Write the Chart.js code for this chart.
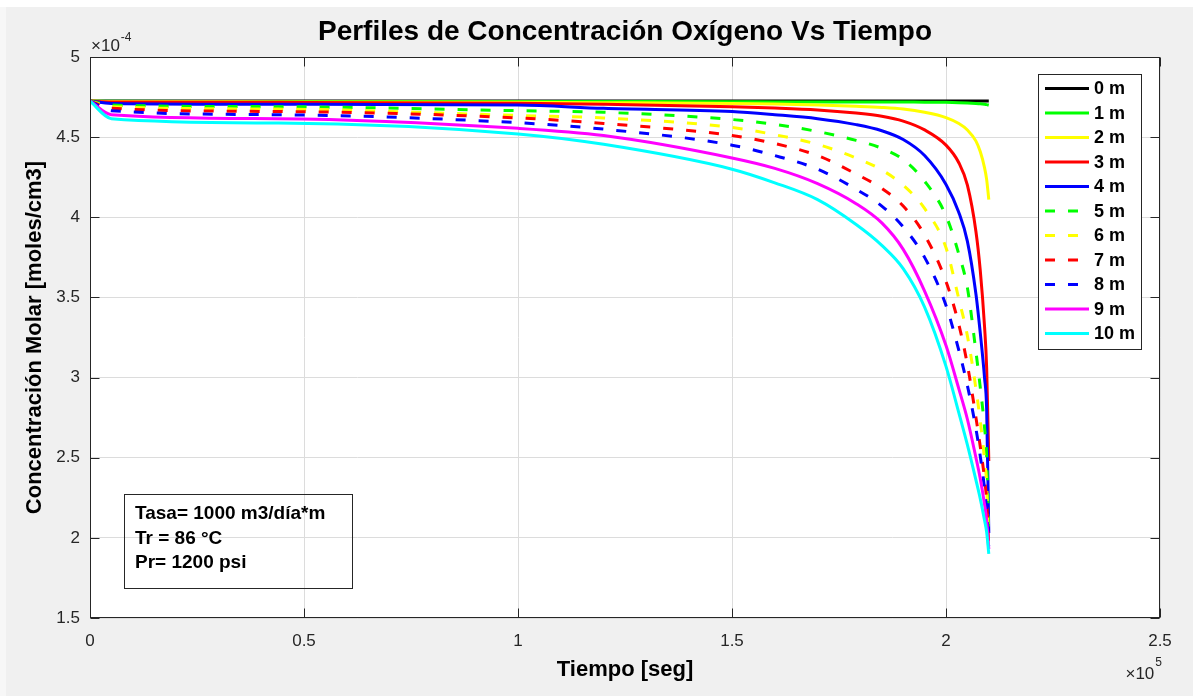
<!DOCTYPE html>
<html>
<head>
<meta charset="utf-8">
<script src="https://cdn.jsdelivr.net/npm/chart.js@4.4.1/dist/chart.umd.min.js"></script>
<style>
html,body{margin:0;padding:0;background:#f0f0f0;}
#wrap{width:1193px;height:696px;position:relative;}
canvas{display:block;}
</style>
</head>
<body>
<div id="wrap"><canvas id="c" width="1193" height="696"></canvas></div>
<script>
// Time (units of 10^5 s)
const timeE5 = [0, 0.05, 0.44, 1.0, 1.2, 1.5, 1.6, 1.7, 1.79, 1.85, 1.9, 1.95, 2.0, 2.03, 2.05, 2.07, 2.08, 2.09, 2.095, 2.1];
// Concentration (units of 10^-4 moles/cm3) per depth
const c0m  = [4.725, 4.725, 4.725, 4.725, 4.725, 4.725, 4.725, 4.725, 4.725, 4.725, 4.725, 4.725, 4.725, 4.725, 4.725, 4.725, 4.725, 4.725, 4.725, 4.725];
const c1m  = [4.725, 4.724, 4.723, 4.722, 4.722, 4.721, 4.72, 4.72, 4.72, 4.72, 4.719, 4.718, 4.717, 4.715, 4.713, 4.71, 4.708, 4.705, 4.703, 4.70];
const c2m  = [4.725, 4.722, 4.72, 4.717, 4.715, 4.71, 4.706, 4.70, 4.692, 4.685, 4.675, 4.655, 4.622, 4.585, 4.545, 4.475, 4.41, 4.31, 4.235, 4.11];
const c3m  = [4.725, 4.72, 4.717, 4.712, 4.705, 4.69, 4.682, 4.67, 4.65, 4.63, 4.60, 4.545, 4.45, 4.34, 4.20, 3.91, 3.67, 3.32, 3.06, 2.48];
const c4m  = [4.725, 4.71, 4.705, 4.70, 4.68, 4.66, 4.64, 4.615, 4.578, 4.54, 4.485, 4.385, 4.205, 4.03, 3.85, 3.52, 3.28, 3.00, 2.80, 2.03];
const c5m  = [4.725, 4.70, 4.69, 4.665, 4.655, 4.61, 4.58, 4.535, 4.48, 4.43, 4.36, 4.225, 4.01, 3.77, 3.56, 3.16, 2.94, 2.69, 2.51, 2.00];
const c6m  = [4.725, 4.69, 4.675, 4.635, 4.62, 4.56, 4.515, 4.455, 4.37, 4.295, 4.20, 4.055, 3.81, 3.49, 3.26, 2.93, 2.73, 2.49, 2.33, 1.88];
const c7m  = [4.725, 4.68, 4.66, 4.62, 4.585, 4.51, 4.46, 4.385, 4.27, 4.18, 4.07, 3.89, 3.60, 3.33, 3.08, 2.75, 2.57, 2.37, 2.23, 1.95];
const c8m  = [4.725, 4.665, 4.64, 4.59, 4.55, 4.45, 4.385, 4.30, 4.175, 4.07, 3.94, 3.75, 3.45, 3.17, 2.95, 2.68, 2.51, 2.31, 2.17, 1.95];
const c9m  = [4.725, 4.64, 4.615, 4.555, 4.51, 4.37, 4.305, 4.21, 4.085, 3.965, 3.80, 3.54, 3.20, 2.93, 2.74, 2.50, 2.37, 2.21, 2.11, 1.93];
const c10m = [4.725, 4.615, 4.588, 4.52, 4.455, 4.30, 4.215, 4.11, 3.955, 3.825, 3.68, 3.44, 3.07, 2.78, 2.58, 2.36, 2.245, 2.11, 2.035, 1.90];

const seriesLabels = ['0 m', '1 m', '2 m', '3 m', '4 m', '5 m', '6 m', '7 m', '8 m', '9 m', '10 m'];
const seriesValues = [c0m, c1m, c2m, c3m, c4m, c5m, c6m, c7m, c8m, c9m, c10m];
const seriesColors = ['#000000', '#00ff00', '#ffff00', '#ff0000', '#0000ff', '#00ff00', '#ffff00', '#ff0000', '#0000ff', '#ff00ff', '#00ffff'];
const seriesDashed = [false, false, false, false, false, true, true, true, true, false, false];

const xTickValues = [0, 0.5, 1, 1.5, 2, 2.5];
const xTickLabels = ['0', '0.5', '1', '1.5', '2', '2.5'];
const yTickValues = [1.5, 2, 2.5, 3, 3.5, 4, 4.5, 5];
const yTickLabels = ['1.5', '2', '2.5', '3', '3.5', '4', '4.5', '5'];

const titleText = 'Perfiles de Concentración Oxígeno Vs Tiempo';
const xTitle = 'Tiempo [seg]';
const yTitle = 'Concentración Molar [moles/cm3]';
const noteLines = ['Tasa= 1000 m3/día*m', 'Tr = 86 °C', 'Pr= 1200 psi'];

const FONT = '"Liberation Sans", Arial, Helvetica, sans-serif';
const DASH = [10, 13];

const datasets = seriesLabels.map((lab, i) => ({
  label: lab,
  data: timeE5.map((t, k) => ({x: t, y: seriesValues[i][k]})),
  borderColor: seriesColors[i],
  backgroundColor: seriesColors[i],
  borderWidth: 3,
  borderDash: seriesDashed[i] ? DASH : [],
  pointRadius: 0,
  fill: false,
  cubicInterpolationMode: 'monotone',
  order: seriesLabels.length - 1 - i
}));

function labelFor(values, labels, v) {
  for (let i = 0; i < values.length; i++) if (Math.abs(values[i] - v) < 1e-9) return labels[i];
  return '';
}

const decorPlugin = {
  id: 'decor',
  beforeDraw(chart) {
    const ctx = chart.ctx, a = chart.chartArea;
    ctx.save();
    ctx.fillStyle = '#f0f0f0';
    ctx.fillRect(0, 0, chart.width, chart.height);
    ctx.fillStyle = '#ffffff';
    ctx.fillRect(0, 0, chart.width, 7);
    ctx.fillStyle = '#f7f7f7';
    ctx.fillRect(0, 7, 6, chart.height - 7);
    ctx.fillStyle = '#ffffff';
    ctx.fillRect(a.left, a.top, a.right - a.left, a.bottom - a.top);
    ctx.restore();
  },
  afterDatasetsDraw(chart) {
    const ctx = chart.ctx, a = chart.chartArea;
    const xs = chart.scales.x, ys = chart.scales.y;
    ctx.save();
    const L = Math.round(a.left) + 0.5, R = Math.round(a.right) - 0.5;
    const T = Math.round(a.top) + 0.5, B = Math.round(a.bottom) - 0.5;
    ctx.strokeStyle = '#262626';
    ctx.lineWidth = 1;
    ctx.setLineDash([]);
    ctx.strokeRect(L, T, R - L, B - T);
    const tl = 9;
    ctx.beginPath();
    xTickValues.forEach(v => {
      const px = Math.round(xs.getPixelForValue(v)) + 0.5;
      ctx.moveTo(px, B); ctx.lineTo(px, B - tl);
      ctx.moveTo(px, T); ctx.lineTo(px, T + tl);
    });
    yTickValues.forEach(v => {
      const py = Math.round(ys.getPixelForValue(v)) + 0.5;
      ctx.moveTo(L, py); ctx.lineTo(L + tl, py);
      ctx.moveTo(R, py); ctx.lineTo(R - tl, py);
    });
    ctx.stroke();

    // exponent labels
    ctx.fillStyle = '#262626';
    ctx.textBaseline = 'middle';
    ctx.textAlign = 'left';
    ctx.font = '17px ' + FONT;
    ctx.fillText('\u00d710', a.left + 1, a.top - 11);
    const w = ctx.measureText('\u00d710').width;
    ctx.font = '12px ' + FONT;
    ctx.fillText('-4', a.left + 1 + w + 1, a.top - 19);
    ctx.font = '17px ' + FONT;
    const w2 = ctx.measureText('\u00d710').width;
    ctx.font = '12px ' + FONT;
    const w3 = ctx.measureText('5').width;
    ctx.font = '17px ' + FONT;
    const ex = a.right + 2 - w3 - 1 - w2;
    ctx.fillText('\u00d710', ex, 674);
    ctx.font = '12px ' + FONT;
    ctx.fillText('5', ex + w2 + 1, 663);

    // legend
    const lgL = 1038, lgT = 74, lgR = 1142, lgB = 350;
    ctx.fillStyle = '#ffffff';
    ctx.fillRect(lgL, lgT, lgR - lgL, lgB - lgT);
    ctx.strokeStyle = '#262626';
    ctx.lineWidth = 1;
    ctx.strokeRect(lgL + 0.5, lgT + 0.5, lgR - lgL - 1, lgB - lgT - 1);
    chart.data.datasets.forEach((ds, i) => {
      const cy = 88.5 + i * 24.5;
      ctx.beginPath();
      ctx.strokeStyle = ds.borderColor;
      ctx.lineWidth = 3;
      ctx.setLineDash(ds.borderDash || []);
      ctx.moveTo(1045, cy); ctx.lineTo(1089, cy);
      ctx.stroke();
      ctx.setLineDash([]);
      ctx.fillStyle = '#000000';
      ctx.font = 'bold 18px ' + FONT;
      ctx.textAlign = 'left';
      ctx.textBaseline = 'middle';
      ctx.fillText(ds.label, 1094, cy + 1);
    });

    // annotation box (transparent)
    ctx.strokeStyle = '#262626';
    ctx.lineWidth = 1;
    ctx.strokeRect(124.5, 494.5, 228, 94);
    ctx.fillStyle = '#000000';
    ctx.font = 'bold 19px ' + FONT;
    const ny = [514, 539, 563];
    noteLines.forEach((s, i) => ctx.fillText(s, 135, ny[i]));
    ctx.restore();
  }
};

new Chart(document.getElementById('c'), {
  type: 'line',
  data: { datasets },
  plugins: [decorPlugin],
  options: {
    responsive: false,
    animation: false,
    devicePixelRatio: 1,
    layout: { padding: { left: 0, right: 33, top: 0, bottom: 0 } },
    plugins: {
      legend: { display: false },
      tooltip: { enabled: false },
      title: {
        display: true,
        fullSize: false,
        text: titleText,
        color: '#000000',
        font: { family: FONT, size: 28, weight: 'bold' },
        padding: { top: 15.2, bottom: 8.2 }
      }
    },
    scales: {
      x: {
        type: 'linear',
        min: 0, max: 2.5,
        afterFit(s) { s.height = 78; },
        afterBuildTicks(s) { s.ticks = xTickValues.map(v => ({ value: v })); },
        grid: { color: '#dcdcdc', lineWidth: 1, drawTicks: false },
        border: { display: false },
        ticks: {
          color: '#262626', padding: 13, maxRotation: 0, autoSkip: false,
          font: { family: FONT, size: 17 },
          callback: v => labelFor(xTickValues, xTickLabels, v)
        },
        title: {
          display: true, text: xTitle, color: '#000000',
          font: { family: FONT, size: 22, weight: 'bold' },
          padding: { top: 0, bottom: 12.8 }
        }
      },
      y: {
        type: 'linear',
        min: 1.5, max: 5,
        afterFit(s) { s.width = 90; },
        afterBuildTicks(s) { s.ticks = yTickValues.map(v => ({ value: v })); },
        grid: { color: '#dcdcdc', lineWidth: 1, drawTicks: false },
        border: { display: false },
        ticks: {
          color: '#262626', padding: 10, autoSkip: false,
          font: { family: FONT, size: 17 },
          callback: v => labelFor(yTickValues, yTickLabels, v)
        },
        title: {
          display: true, text: yTitle, color: '#000000',
          font: { family: FONT, size: 22, weight: 'bold' },
          padding: { top: 21.8, bottom: 0 }
        }
      }
    }
  }
});
</script>
</body>
</html>
